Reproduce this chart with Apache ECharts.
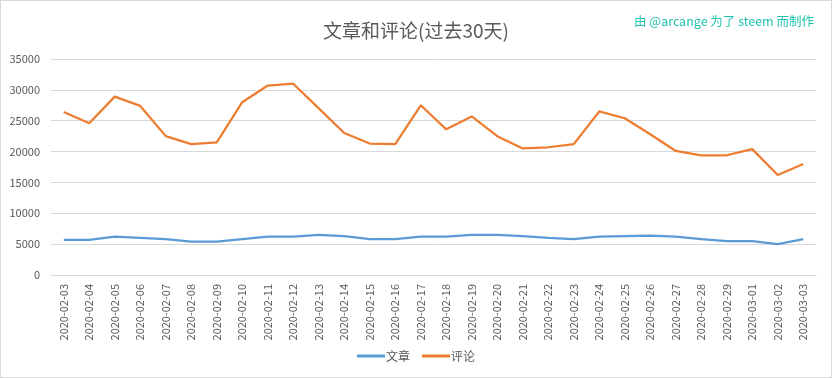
<!DOCTYPE html>
<html><head><meta charset="utf-8">
<script src="https://cdn.jsdelivr.net/npm/echarts@6/dist/echarts.min.js"></script>
<style>html,body{margin:0;padding:0;background:#fff}#c{width:832px;height:378px;box-sizing:border-box;border:1px solid #d9d9d9}</style>
</head><body><div id="c"></div>
<script>
const categories = ["2020-02-03","2020-02-04","2020-02-05","2020-02-06","2020-02-07","2020-02-08","2020-02-09","2020-02-10","2020-02-11","2020-02-12","2020-02-13","2020-02-14","2020-02-15","2020-02-16","2020-02-17","2020-02-18","2020-02-19","2020-02-20","2020-02-21","2020-02-22","2020-02-23","2020-02-24","2020-02-25","2020-02-26","2020-02-27","2020-02-28","2020-02-29","2020-03-01","2020-03-02","2020-03-03"];
const posts = [5700,5700,6200,6000,5800,5400,5400,5800,6200,6200,6500,6300,5800,5800,6200,6200,6500,6500,6300,6000,5800,6200,6300,6400,6200,5800,5500,5500,5000,5800];
const comments = [26400,24600,28900,27400,22500,21200,21500,28000,30700,31000,27000,23000,21300,21200,27500,23600,25700,22500,20500,20700,21200,26500,25400,22800,20100,19400,19400,20400,16200,18000];
const seriesNames = ["文章","评论"];
const titleText = "文章和评论(过去30天)";
const creditText = "由 @arcange 为了 steem 而制作";

const font = '"Noto Sans CJK SC","Noto Sans",sans-serif';
const chart = echarts.init(document.getElementById('c'));
chart.setOption({
  animation:false,
  textStyle:{fontFamily:font},
  title:[
    {text:titleText,left:'center',top:15,textStyle:{fontSize:19,fontWeight:'normal',color:'#595959',fontFamily:font}},
    {text:creditText,right:12,top:9,textStyle:{fontSize:12.5,fontWeight:'normal',color:'#1fc3ad',fontFamily:font}}
  ],
  legend:{bottom:10,left:'center',itemWidth:28,itemHeight:3,itemGap:12,icon:'rect',
    textStyle:{color:'#595959',fontSize:12,fontFamily:font,padding:[0,0,0,-4]},
    data:seriesNames},
  grid:{left:50,right:15,top:58,bottom:102},
  xAxis:{type:'category',data:categories,boundaryGap:true,
    axisLine:{lineStyle:{color:'#d9d9d9'}},axisTick:{show:false},
    axisLabel:{rotate:90,color:'#595959',fontSize:11,margin:9,fontFamily:font}},
  yAxis:{type:'value',min:0,max:35000,interval:5000,
    axisLine:{show:false},axisTick:{show:false},
    splitLine:{lineStyle:{color:'#d9d9d9'}},
    axisLabel:{color:'#595959',fontSize:11,margin:11,fontFamily:font,formatter:v=>String(v)}},
  series:[
    {name:seriesNames[0],type:'line',data:posts,symbol:'none',lineStyle:{color:'#5b9bd5',width:2.25},itemStyle:{color:'#5b9bd5'}},
    {name:seriesNames[1],type:'line',data:comments,symbol:'none',lineStyle:{color:'#ed7d31',width:2.25},itemStyle:{color:'#ed7d31'}}
  ]
});
</script></body></html>
